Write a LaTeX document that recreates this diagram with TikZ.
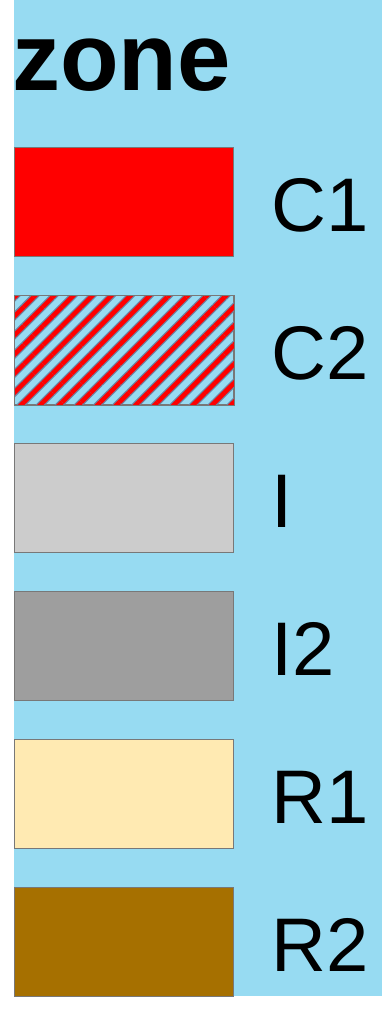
\documentclass[tikz,border=0pt]{standalone}
\usepackage{fontspec}
\setmainfont{Liberation Sans}
\usetikzlibrary{patterns.meta}
\definecolor{bgblue}{RGB}{151,219,242}
\definecolor{edgegray}{RGB}{120,120,120}
\definecolor{stripegray}{RGB}{110,130,160}
\definecolor{zoneC}{RGB}{255,0,0}
\definecolor{zoneI}{RGB}{204,204,204}
\definecolor{zoneIb}{RGB}{158,158,158}
\definecolor{zoneR}{RGB}{255,234,178}
\definecolor{zoneRb}{RGB}{166,112,0}
\begin{document}
\begin{tikzpicture}[
      x=1pt, y=-1pt,
      swatch/.style={draw=edgegray, line width=1pt, minimum width=219pt,
                     minimum height=109pt, inner sep=0pt, anchor=north west},
      stripes/.style={pattern={Lines[angle=45, distance=13.5pt, line width=#1]}},
      lab/.style={anchor=base west, inner sep=0pt, font=\fontsize{76}{80}\selectfont},
    ]
    \useasboundingbox (0,0) rectangle (382,1018);
    \fill[bgblue] (14,0) rectangle (382,996);

    % title
    \node[anchor=base west, inner sep=0pt, font=\fontsize{96}{100}\selectfont\bfseries]
      (title) at (12,90) {zone};

    % legend entries
    \foreach \name/\col [count=\i from 0] in {C1/zoneC, C2/bgblue, I/zoneI, I2/zoneIb, R1/zoneR, R2/zoneRb} {
      \pgfmathsetmacro{\ytop}{147+148*\i}
      \node[swatch, fill=\col] (box\name) at (14,\ytop) {};
      \node[lab] (lab\name) at (271,\ytop+84) {\name};
    }

    % hatching of C2
    \path[stripes=7pt, pattern color=stripegray] (boxC2.north west) rectangle (boxC2.south east);
    \path[stripes=4.5pt, pattern color=zoneC] (boxC2.north west) rectangle (boxC2.south east);
    \draw[edgegray, line width=1pt] (boxC2.north west) rectangle (boxC2.south east);
  \end{tikzpicture}
\end{document}
